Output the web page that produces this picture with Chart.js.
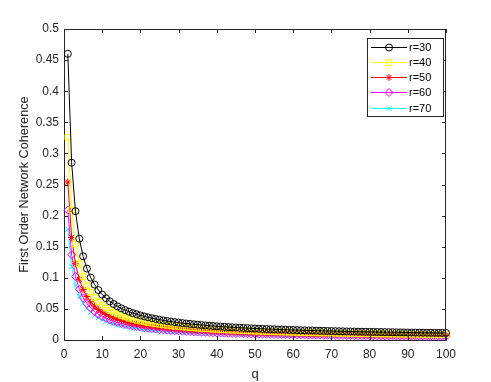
<!DOCTYPE html>
<html>
<head>
<meta charset="utf-8">
<script src="https://cdn.jsdelivr.net/npm/chart.js@4.4.1/dist/chart.umd.min.js"></script>
<style>
  html, body { margin: 0; padding: 0; background: #fff; }
  canvas { display: block; }
</style>
</head>
<body>
<canvas id="miGrafico" width="491" height="382"></canvas>
<script>
// valores: q = 1..100
var q = [1,2,3,4,5,6,7,8,9,10,11,12,13,14,15,16,17,18,19,20,
  21,22,23,24,25,26,27,28,29,30,31,32,33,34,35,36,37,38,39,40,
  41,42,43,44,45,46,47,48,49,50,51,52,53,54,55,56,57,58,59,60,
  61,62,63,64,65,66,67,68,69,70,71,72,73,74,75,76,77,78,79,80,
  81,82,83,84,85,86,87,88,89,90,91,92,93,94,95,96,97,98,99,100];

var etiquetas = ['r=30', 'r=40', 'r=50', 'r=60', 'r=70'];

var r30 = [0.4601,0.2850,0.2071,0.1630,0.1346,0.1148,0.1003,0.0891,0.0802,0.0730,
  0.0671,0.0621,0.0578,0.0541,0.0509,0.0481,0.0456,0.0433,0.0413,0.0395,
  0.0379,0.0364,0.0350,0.0338,0.0326,0.0315,0.0305,0.0296,0.0287,0.0279,
  0.0272,0.0265,0.0258,0.0252,0.0246,0.0240,0.0235,0.0230,0.0225,0.0220,
  0.0216,0.0212,0.0208,0.0204,0.0201,0.0197,0.0194,0.0191,0.0188,0.0185,
  0.0182,0.0179,0.0177,0.0174,0.0172,0.0169,0.0167,0.0165,0.0163,0.0161,
  0.0159,0.0157,0.0155,0.0153,0.0152,0.0150,0.0148,0.0147,0.0145,0.0144,
  0.0142,0.0141,0.0140,0.0138,0.0137,0.0136,0.0134,0.0133,0.0132,0.0131,
  0.0130,0.0129,0.0128,0.0127,0.0126,0.0125,0.0124,0.0123,0.0122,0.0121,
  0.0120,0.0119,0.0118,0.0117,0.0117,0.0116,0.0115,0.0114,0.0114,0.0113];

var r40 = [0.3260,0.2093,0.1545,0.1228,0.1020,0.0874,0.0765,0.0681,0.0615,0.0560,
  0.0515,0.0477,0.0445,0.0417,0.0392,0.0371,0.0351,0.0334,0.0319,0.0305,
  0.0292,0.0281,0.0270,0.0261,0.0252,0.0243,0.0236,0.0228,0.0222,0.0216,
  0.0210,0.0204,0.0199,0.0194,0.0190,0.0185,0.0181,0.0177,0.0174,0.0170,
  0.0167,0.0164,0.0160,0.0158,0.0155,0.0152,0.0150,0.0147,0.0145,0.0142,
  0.0140,0.0138,0.0136,0.0134,0.0132,0.0131,0.0129,0.0127,0.0126,0.0124,
  0.0122,0.0121,0.0120,0.0118,0.0117,0.0116,0.0114,0.0113,0.0112,0.0111,
  0.0110,0.0108,0.0107,0.0106,0.0105,0.0104,0.0103,0.0102,0.0102,0.0101,
  0.0100,0.0099,0.0098,0.0097,0.0097,0.0096,0.0095,0.0094,0.0094,0.0093,
  0.0092,0.0092,0.0091,0.0090,0.0090,0.0089,0.0088,0.0088,0.0087,0.0087];

var r50 = [0.2540,0.1650,0.1225,0.0976,0.0813,0.0698,0.0612,0.0545,0.0492,0.0449,
  0.0413,0.0383,0.0357,0.0335,0.0315,0.0298,0.0283,0.0269,0.0257,0.0245,
  0.0235,0.0226,0.0218,0.0210,0.0203,0.0196,0.0190,0.0184,0.0179,0.0174,
  0.0169,0.0165,0.0161,0.0157,0.0153,0.0150,0.0146,0.0143,0.0140,0.0137,
  0.0135,0.0132,0.0130,0.0127,0.0125,0.0123,0.0121,0.0119,0.0117,0.0115,
  0.0114,0.0112,0.0110,0.0109,0.0107,0.0106,0.0104,0.0103,0.0102,0.0100,
  0.0099,0.0098,0.0097,0.0096,0.0095,0.0094,0.0093,0.0092,0.0091,0.0090,
  0.0089,0.0088,0.0087,0.0086,0.0085,0.0085,0.0084,0.0083,0.0083,0.0082,
  0.0081,0.0080,0.0080,0.0079,0.0078,0.0078,0.0077,0.0077,0.0076,0.0076,
  0.0075,0.0074,0.0074,0.0073,0.0073,0.0072,0.0072,0.0071,0.0071,0.0071];

var r60 = [0.2088,0.1369,0.1021,0.0816,0.0680,0.0584,0.0513,0.0457,0.0413,0.0377,
  0.0347,0.0321,0.0300,0.0281,0.0264,0.0250,0.0237,0.0226,0.0215,0.0206,
  0.0197,0.0190,0.0183,0.0176,0.0170,0.0164,0.0159,0.0154,0.0150,0.0146,
  0.0142,0.0138,0.0135,0.0131,0.0128,0.0125,0.0122,0.0120,0.0117,0.0115,
  0.0113,0.0110,0.0108,0.0106,0.0105,0.0103,0.0101,0.0099,0.0098,0.0096,
  0.0095,0.0093,0.0092,0.0091,0.0089,0.0088,0.0087,0.0086,0.0085,0.0084,
  0.0083,0.0082,0.0081,0.0080,0.0079,0.0078,0.0077,0.0076,0.0076,0.0075,
  0.0074,0.0073,0.0073,0.0072,0.0071,0.0070,0.0070,0.0069,0.0069,0.0068,
  0.0067,0.0067,0.0066,0.0066,0.0065,0.0065,0.0064,0.0064,0.0063,0.0063,
  0.0062,0.0062,0.0061,0.0061,0.0060,0.0060,0.0060,0.0059,0.0059,0.0058];

var r70 = [0.1782,0.1179,0.0883,0.0707,0.0590,0.0507,0.0445,0.0397,0.0358,0.0327,
  0.0301,0.0279,0.0260,0.0243,0.0229,0.0216,0.0205,0.0195,0.0186,0.0178,
  0.0170,0.0164,0.0157,0.0152,0.0147,0.0142,0.0137,0.0133,0.0129,0.0125,
  0.0122,0.0119,0.0116,0.0113,0.0110,0.0107,0.0105,0.0103,0.0100,0.0098,
  0.0096,0.0094,0.0093,0.0091,0.0089,0.0088,0.0086,0.0085,0.0083,0.0082,
  0.0081,0.0079,0.0078,0.0077,0.0076,0.0075,0.0074,0.0073,0.0072,0.0071,
  0.0070,0.0069,0.0068,0.0068,0.0067,0.0066,0.0065,0.0064,0.0064,0.0063,
  0.0062,0.0062,0.0061,0.0061,0.0060,0.0059,0.0059,0.0058,0.0058,0.0057,
  0.0057,0.0056,0.0056,0.0055,0.0055,0.0054,0.0054,0.0053,0.0053,0.0053,
  0.0052,0.0052,0.0051,0.0051,0.0051,0.0050,0.0050,0.0049,0.0049,0.0049];

var series = [r30, r40, r50, r60, r70];
var colores = ['#000000', '#ffff00', '#ff0000', '#ff00ff', '#00ffff'];
var marcas = ['circle', 'rect', 'star', 'rectRot', 'crossRot'];
var tamanos = [3.5, 4, 3.5, 4, 3.5];

var gris = '#262626';
var fuente = '"Liberation Sans", Arial, Helvetica, sans-serif';

var datasets = [];
for (let i = 0; i < series.length; i++) {
  datasets.push({
    label: etiquetas[i],
    data: q.map(function (x, j) { return { x: x, y: series[i][j] }; }),
    borderColor: colores[i],
    borderWidth: 1,
    pointStyle: marcas[i],
    pointRadius: tamanos[i],
    pointBorderColor: colores[i],
    pointBackgroundColor: 'rgba(0,0,0,0)',
    pointBorderWidth: 1,
    tension: 0,
    clip: false
  });
}

// marco con ticks hacia dentro y leyenda estilo matlab
var marco = {
  id: 'marco',
  afterDraw: function (chart) {
    var ctx = chart.ctx;
    var a = chart.chartArea;
    var sx = chart.scales.x, sy = chart.scales.y;
    ctx.save();
    ctx.strokeStyle = gris;
    ctx.lineWidth = 1;
    ctx.beginPath();
    ctx.moveTo(a.left, a.top + 0.5); ctx.lineTo(a.right, a.top + 0.5);
    ctx.moveTo(a.right - 0.5, a.top); ctx.lineTo(a.right - 0.5, a.bottom);
    for (let v = 0; v <= 100; v += 10) {
      var px = Math.round(sx.getPixelForValue(v)) + 0.5;
      ctx.moveTo(px, a.bottom); ctx.lineTo(px, a.bottom - 4);
      ctx.moveTo(px, a.top); ctx.lineTo(px, a.top + 4);
    }
    for (let k = 0; k <= 10; k++) {
      var py = Math.round(sy.getPixelForValue(k * 0.05)) + 0.5;
      ctx.moveTo(a.left, py); ctx.lineTo(a.left + 4, py);
      ctx.moveTo(a.right, py); ctx.lineTo(a.right - 4, py);
    }
    ctx.stroke();

    // leyenda
    var lx = 367.5, ly = 38.5, lw = 76, lh = 78;
    ctx.fillStyle = '#ffffff';
    ctx.fillRect(lx, ly, lw, lh);
    ctx.strokeStyle = gris;
    ctx.strokeRect(lx, ly, lw, lh);
    ctx.font = '11px ' + fuente;
    ctx.textBaseline = 'middle';
    ctx.textAlign = 'left';
    chart.data.datasets.forEach(function (ds, i) {
      var y = Math.round(ly + 8 + i * 15.3) + 0.5;
      ctx.strokeStyle = ds.borderColor;
      ctx.lineWidth = 1;
      ctx.beginPath();
      ctx.moveTo(371, y); ctx.lineTo(407, y);
      ctx.stroke();
      ctx.fillStyle = 'rgba(0,0,0,0)';
      Chart.helpers.drawPoint(ctx, {
        pointStyle: ds.pointStyle, radius: ds.pointRadius, rotation: 0, borderWidth: 1
      }, 389, y);
      ctx.fillStyle = '#000000';
      ctx.fillText(ds.label, 409, y);
    });
    ctx.restore();
  }
};

var ctx = document.getElementById('miGrafico').getContext('2d');
var chart = new Chart(ctx, {
  type: 'line',
  data: { datasets: datasets },
  options: {
    responsive: false,
    devicePixelRatio: 1,
    animation: false,
    layout: { padding: { left: 0, top: 29, right: 45, bottom: 0 } },
    plugins: { legend: { display: false }, tooltip: { enabled: false } },
    scales: {
      x: {
        type: 'linear', min: 0, max: 100,
        grid: { display: false, drawTicks: false },
        border: { display: true, color: gris, width: 1 },
        ticks: { stepSize: 10, color: gris, padding: 7, maxRotation: 0,
          font: { family: fuente, size: 12 } },
        title: { display: true, text: 'q', color: gris, padding: { top: 2, bottom: 0 },
          font: { family: fuente, size: 13 } },
        afterFit: function (s) { s.height = 42; }
      },
      y: {
        min: 0, max: 0.5,
        grid: { display: false, drawTicks: false },
        border: { display: true, color: gris, width: 1 },
        ticks: { stepSize: 0.05, color: gris, padding: 5,
          font: { family: fuente, size: 12 },
          callback: function (v) { return String(Math.round(v * 100) / 100); } },
        title: { display: true, text: 'First Order Network Coherence', color: gris,
          padding: { top: 17, bottom: 0 }, font: { family: fuente, size: 12.7 } },
        afterFit: function (s) { s.width = 64; }
      }
    }
  },
  plugins: [marco]
});
</script>
</body>
</html>
